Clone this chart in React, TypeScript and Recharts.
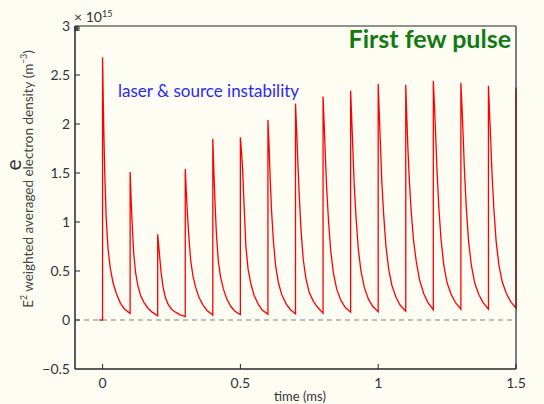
import { LineChart, Line, XAxis, YAxis, ReferenceLine } from 'recharts';

// pulse train (values in units of 1e15 m^-3, time in ms)
const pulseStart = [0, 0.1, 0.2, 0.3, 0.4, 0.5, 0.6, 0.7, 0.8, 0.9, 1.0, 1.1, 1.2, 1.3, 1.4];
const pulseOffset = [0, 0.004, 0.008, 0.013, 0.02, 0.028, 0.038, 0.05, 0.065, 0.08, 0.1];
const pulseValues: number[][] = [
    [2.68, 2.0, 1.5, 1.05, 0.72, 0.53, 0.38, 0.27, 0.17, 0.11, 0.068],
    [1.51, 1.2, 0.95, 0.68, 0.48, 0.35, 0.25, 0.18, 0.12, 0.08, 0.044],
    [0.875, 0.75, 0.62, 0.47, 0.33, 0.23, 0.16, 0.11, 0.08, 0.055, 0.034],
    [1.54, 1.3, 1.08, 0.85, 0.6, 0.45, 0.33, 0.23, 0.15, 0.095, 0.05],
    [1.85, 1.5, 1.2, 0.88, 0.6, 0.44, 0.32, 0.22, 0.14, 0.09, 0.055],
    [1.865, 1.72, 1.55, 1.2, 0.75, 0.52, 0.37, 0.25, 0.16, 0.1, 0.06],
    [2.04, 1.78, 1.45, 1.12, 0.8, 0.55, 0.38, 0.26, 0.17, 0.11, 0.062],
    [2.21, 1.95, 1.65, 1.3, 0.92, 0.62, 0.42, 0.28, 0.19, 0.13, 0.07],
    [2.28, 2.0, 1.7, 1.35, 1.0, 0.7, 0.47, 0.31, 0.2, 0.13, 0.08],
    [2.34, 2.05, 1.75, 1.38, 1.03, 0.72, 0.49, 0.33, 0.21, 0.14, 0.085],
    [2.41, 2.1, 1.8, 1.42, 1.07, 0.76, 0.52, 0.35, 0.23, 0.15, 0.09],
    [2.4, 2.05, 1.74, 1.42, 1.1, 0.82, 0.6, 0.41, 0.27, 0.18, 0.105],
    [2.44, 2.2, 1.92, 1.55, 1.15, 0.82, 0.56, 0.38, 0.26, 0.18, 0.11],
    [2.42, 2.18, 1.9, 1.52, 1.13, 0.8, 0.56, 0.38, 0.26, 0.18, 0.11],
    [2.39, 2.12, 1.85, 1.5, 1.12, 0.8, 0.56, 0.39, 0.27, 0.19, 0.12],
];
const baseTime = [-0.012, 0];
const baseValue = [0, 0];
const lastTime = [1.5];
const lastValue = [2.37];

const xTicks = [0, 0.5, 1, 1.5];
const yTicks = [-0.5, 0, 0.5, 1, 1.5, 2, 2.5, 3];

const data: { t: number; n: number }[] = [];
baseTime.forEach((t, i) => data.push({ t, n: baseValue[i] }));
pulseStart.forEach((s, k) =>
    pulseOffset.forEach((o, j) => data.push({ t: +(s + o).toFixed(4), n: pulseValues[k][j] }))
);
lastTime.forEach((t, i) => data.push({ t, n: lastValue[i] }));

const FONT = 'Lato, "Open Sans", sans-serif';
const BG = '#fdfdf3';
const AXIS = '#262626';

const fmt = (v: number) => (v < 0 ? '\u2212' + Math.abs(v) : String(v));
const isEdge = (v: number) => v === 3 || v === -0.5;

const LeftTick = ({ x, y, payload }: any) => (
    <g>
        {!isEdge(payload.value) && <line x1={x} x2={x + 5} y1={y} y2={y} stroke={AXIS} />}
        <text x={x - 5} y={y} dy={5} textAnchor='end' fontSize={14} fill='#333' fontFamily={FONT}>
            {fmt(payload.value)}
        </text>
    </g>
);
const RightTick = ({ x, y, payload }: any) =>
    isEdge(payload.value) ? <g /> : <line x1={x} x2={x - 5} y1={y} y2={y} stroke={AXIS} />;
const BottomTick = ({ x, y, payload }: any) => (
    <g>
        <line x1={x} x2={x} y1={y} y2={y - 5} stroke={AXIS} />
        <text x={x} y={y + 19} textAnchor='middle' fontSize={14} fill='#333' fontFamily={FONT}>
            {fmt(payload.value)}
        </text>
    </g>
);
const TopTick = ({ x, y }: any) => <line x1={x} x2={x} y1={y} y2={y + 5} stroke={AXIS} />;

const App = () => {
    return (
        <div style={{ position: 'fixed', left: 0, top: 0, width: 544, height: 404, background: BG, overflow: 'hidden' }}>
            <LineChart width={544} height={404} data={data} margin={{ top: 0, right: 0, bottom: 0, left: 0 }}>
                <XAxis
                    dataKey='t'
                    type='number'
                    domain={[-0.1, 1.5]}
                    ticks={xTicks}
                    interval={0}
                    height={35}
                    tickSize={0}
                    tickMargin={0}
                    tickLine={false}
                    tick={<BottomTick />}
                    axisLine={{ stroke: AXIS, strokeWidth: 1.5 }}
                />
                <XAxis
                    xAxisId='top'
                    orientation='top'
                    type='number'
                    domain={[-0.1, 1.5]}
                    ticks={xTicks}
                    interval={0}
                    height={26}
                    tickSize={0}
                    tickMargin={0}
                    tickLine={false}
                    tick={<TopTick />}
                    axisLine={false}
                />
                <YAxis
                    type='number'
                    domain={[-0.5, 3]}
                    ticks={yTicks}
                    interval={0}
                    width={75}
                    tickSize={0}
                    tickMargin={0}
                    tickLine={false}
                    tick={<LeftTick />}
                    axisLine={{ stroke: AXIS, strokeWidth: 1.5 }}
                />
                <YAxis
                    yAxisId='right'
                    orientation='right'
                    type='number'
                    domain={[-0.5, 3]}
                    ticks={yTicks}
                    interval={0}
                    width={28}
                    tickSize={0}
                    tickMargin={0}
                    tickLine={false}
                    tick={<RightTick />}
                    axisLine={{ stroke: AXIS, strokeWidth: 1.2 }}
                />
                <ReferenceLine y={3} stroke={AXIS} strokeWidth={1.2} />
                <ReferenceLine y={0} stroke='#a8a8a8' strokeWidth={1.5} strokeDasharray='5 4' />
                <Line
                    type='linear'
                    dataKey='n'
                    stroke='#ff0000'
                    strokeWidth={1.3}
                    dot={false}
                    isAnimationActive={false}
                />
            </LineChart>
            <svg width={544} height={404} style={{ position: 'absolute', left: 0, top: 0, pointerEvents: 'none' }}>
                <text x={74} y={22} fontSize={14} fill='#333' fontFamily={FONT}>
                    × 10<tspan dy={-5} fontSize={9}>15</tspan>
                </text>
                <text x={511} y={48} textAnchor='end' fontSize={25} fontWeight={700} fill='#127a12' fontFamily={FONT}>
                    First few pulse
                </text>
                <text x={118} y={97} fontSize={17} fill='#2a2af5' fontFamily={FONT}>
                    laser &amp; source instability
                </text>
                <text
                    x={28}
                    y={179}
                    transform='rotate(-90, 28, 179)'
                    textAnchor='middle'
                    dominantBaseline='central'
                    fontSize={13.5}
                    fill='#444'
                    fontFamily={FONT}
                >
                    E<tspan dy={-4} fontSize={8.5}>2</tspan>
                    <tspan dy={4}> weighted averaged electron density (m</tspan>
                    <tspan dy={-4} fontSize={8.5}>−3</tspan>
                    <tspan dy={4}>)</tspan>
                </text>
                <text x={300} y={401} textAnchor='middle' fontSize={13} fill='#333' fontFamily={FONT}>
                    time (ms)
                </text>
                <text x={12} y={165} transform='rotate(-90, 12, 165)' textAnchor='middle' dominantBaseline='central' fontSize={21} fill='#333' fontFamily={FONT}>
                    e
                </text>
            </svg>
        </div>
    );
};

export default App;
